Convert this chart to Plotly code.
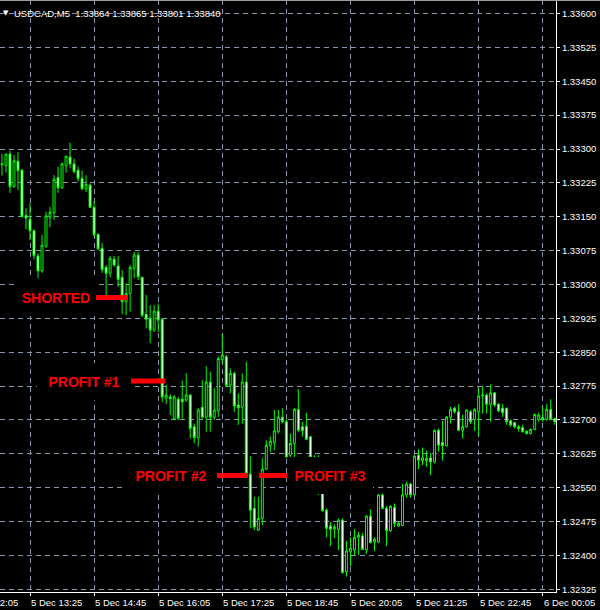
import pandas as pd
import plotly.graph_objects as go

# ---- 5-minute USDCAD bars (5 Dec 12:50 -> 6 Dec 00:20) ----
opens = [1.33265, 1.33263, 1.33289, 1.33217, 1.33273, 1.33253, 1.33153,
         1.33144, 1.33119, 1.33063, 1.33030, 1.33085, 1.33149, 1.33159, 1.33237, 1.33214, 1.33263,
         1.33282, 1.33267, 1.33253, 1.33235, 1.33212, 1.33220, 1.33171, 1.33111, 1.33080, 1.33038,
         1.33025, 1.33056, 1.33041, 1.33016, 1.32962, 1.32980, 1.33036, 1.33065, 1.33016, 1.32934,
         1.32925, 1.32899, 1.32941, 1.32923, 1.32748, 1.32751, 1.32703, 1.32746, 1.32746, 1.32744,
         1.32755, 1.32685, 1.32661, 1.32728, 1.32706, 1.32784, 1.32706, 1.32720, 1.32834, 1.32840,
         1.32777, 1.32803, 1.32733, 1.32728, 1.32784, 1.32580, 1.32504, 1.32456, 1.32482, 1.32591,
         1.32643, 1.32649, 1.32674, 1.32706, 1.32696, 1.32622, 1.32648, 1.32723, 1.32685, 1.32686,
         1.32663, 1.32618, 1.32576, 1.32545, 1.32500, 1.32465, 1.32458, 1.32457, 1.32478, 1.32364,
         1.32408, 1.32412, 1.32440, 1.32443, 1.32412, 1.32487, 1.32430, 1.32430, 1.32534, 1.32504,
         1.32455, 1.32506, 1.32465, 1.32466, 1.32534, 1.32558, 1.32534, 1.32622, 1.32610, 1.32610,
         1.32616, 1.32607, 1.32677, 1.32650, 1.32643, 1.32706, 1.32726, 1.32718, 1.32677, 1.32685,
         1.32718, 1.32700, 1.32718, 1.32753, 1.32755, 1.32735, 1.32760, 1.32735, 1.32726, 1.32726,
         1.32698, 1.32694, 1.32685, 1.32683, 1.32675, 1.32670, 1.32679, 1.32700, 1.32706, 1.32701,
         1.32723, 1.32703]
highs = [1.33289, 1.33289, 1.33296, 1.33287, 1.33293, 1.33256, 1.33169,
         1.33180, 1.33122, 1.33069, 1.33110, 1.33161, 1.33172, 1.33242, 1.33261, 1.33270, 1.33285,
         1.33314, 1.33279, 1.33261, 1.33252, 1.33242, 1.33224, 1.33185, 1.33113, 1.33092, 1.33043,
         1.33063, 1.33063, 1.33063, 1.33032, 1.33003, 1.33043, 1.33072, 1.33072, 1.33017, 1.32977,
         1.32954, 1.32954, 1.32958, 1.32925, 1.32777, 1.32757, 1.32755, 1.32751, 1.32787, 1.32803,
         1.32757, 1.32692, 1.32726, 1.32788, 1.32819, 1.32807, 1.32770, 1.32840, 1.32890, 1.32844,
         1.32814, 1.32807, 1.32759, 1.32803, 1.32829, 1.32620, 1.32530, 1.32530, 1.32615, 1.32655,
         1.32663, 1.32722, 1.32722, 1.32726, 1.32703, 1.32670, 1.32726, 1.32768, 1.32696, 1.32716,
         1.32664, 1.32622, 1.32622, 1.32556, 1.32504, 1.32474, 1.32469, 1.32482, 1.32482, 1.32432,
         1.32440, 1.32458, 1.32452, 1.32450, 1.32489, 1.32502, 1.32440, 1.32536, 1.32537, 1.32509,
         1.32511, 1.32515, 1.32474, 1.32558, 1.32563, 1.32561, 1.32622, 1.32635, 1.32639, 1.32632,
         1.32627, 1.32679, 1.32681, 1.32698, 1.32709, 1.32729, 1.32729, 1.32735, 1.32711, 1.32723,
         1.32722, 1.32726, 1.32770, 1.32775, 1.32759, 1.32779, 1.32762, 1.32737, 1.32735, 1.32727,
         1.32701, 1.32696, 1.32689, 1.32689, 1.32677, 1.32681, 1.32714, 1.32716, 1.32729, 1.32735,
         1.32746, 1.32705]
lows = [1.33241, 1.33248, 1.33203, 1.33214, 1.33209, 1.33149, 1.33122,
        1.33098, 1.33056, 1.33014, 1.33026, 1.33081, 1.33127, 1.33143, 1.33203, 1.33212, 1.33247,
        1.33257, 1.33246, 1.33228, 1.33209, 1.33205, 1.33169, 1.33106, 1.33076, 1.33026, 1.32974,
        1.33016, 1.33039, 1.32995, 1.32934, 1.32932, 1.32940, 1.33014, 1.33010, 1.32928, 1.32903,
        1.32870, 1.32895, 1.32895, 1.32740, 1.32735, 1.32711, 1.32700, 1.32700, 1.32703, 1.32740,
        1.32659, 1.32648, 1.32641, 1.32703, 1.32674, 1.32674, 1.32700, 1.32707, 1.32825, 1.32773,
        1.32759, 1.32718, 1.32689, 1.32692, 1.32580, 1.32460, 1.32456, 1.32454, 1.32467, 1.32589,
        1.32629, 1.32633, 1.32670, 1.32692, 1.32617, 1.32617, 1.32618, 1.32674, 1.32663, 1.32655,
        1.32615, 1.32562, 1.32534, 1.32497, 1.32440, 1.32421, 1.32438, 1.32412, 1.32360, 1.32353,
        1.32376, 1.32401, 1.32401, 1.32412, 1.32404, 1.32427, 1.32410, 1.32427, 1.32503, 1.32421,
        1.32452, 1.32463, 1.32463, 1.32465, 1.32528, 1.32528, 1.32533, 1.32591, 1.32600, 1.32596,
        1.32578, 1.32604, 1.32630, 1.32610, 1.32641, 1.32692, 1.32714, 1.32676, 1.32659, 1.32683,
        1.32691, 1.32676, 1.32664, 1.32714, 1.32714, 1.32696, 1.32729, 1.32718, 1.32707, 1.32689,
        1.32685, 1.32681, 1.32674, 1.32672, 1.32668, 1.32668, 1.32677, 1.32696, 1.32696, 1.32698,
        1.32700, 1.32689]
closes = [1.33267, 1.33289, 1.33217, 1.33274, 1.33252, 1.33150, 1.33147,
          1.33119, 1.33064, 1.33030, 1.33087, 1.33152, 1.33160, 1.33233, 1.33214, 1.33267, 1.33284,
          1.33267, 1.33250, 1.33235, 1.33212, 1.33222, 1.33171, 1.33110, 1.33079, 1.33033, 1.33025,
          1.33058, 1.33043, 1.33011, 1.32962, 1.32980, 1.33038, 1.33065, 1.33017, 1.32932, 1.32923,
          1.32899, 1.32941, 1.32921, 1.32751, 1.32755, 1.32747, 1.32751, 1.32703, 1.32740, 1.32755,
          1.32681, 1.32661, 1.32722, 1.32706, 1.32784, 1.32706, 1.32722, 1.32836, 1.32844, 1.32777,
          1.32803, 1.32731, 1.32727, 1.32784, 1.32582, 1.32500, 1.32463, 1.32482, 1.32591, 1.32644,
          1.32653, 1.32676, 1.32706, 1.32696, 1.32618, 1.32648, 1.32723, 1.32677, 1.32676, 1.32657,
          1.32617, 1.32576, 1.32545, 1.32499, 1.32460, 1.32458, 1.32463, 1.32478, 1.32362, 1.32410,
          1.32416, 1.32440, 1.32445, 1.32413, 1.32487, 1.32428, 1.32436, 1.32534, 1.32504, 1.32455,
          1.32509, 1.32471, 1.32471, 1.32534, 1.32558, 1.32534, 1.32620, 1.32611, 1.32616, 1.32615,
          1.32607, 1.32677, 1.32644, 1.32643, 1.32706, 1.32723, 1.32718, 1.32677, 1.32685, 1.32722,
          1.32696, 1.32723, 1.32753, 1.32755, 1.32735, 1.32760, 1.32733, 1.32720, 1.32716, 1.32696,
          1.32689, 1.32685, 1.32681, 1.32674, 1.32670, 1.32679, 1.32712, 1.32711, 1.32702, 1.32723,
          1.32702, 1.32696]
bar_start = "2017-12-05 12:50"
times = pd.date_range(bar_start, periods=len(opens), freq="5min")

# ---- time axis labels ----
tick_times = ["2017-12-05 12:05", "2017-12-05 13:25", "2017-12-05 14:45", "2017-12-05 16:05",
              "2017-12-05 17:25", "2017-12-05 18:45", "2017-12-05 20:05", "2017-12-05 21:25",
              "2017-12-05 22:45", "2017-12-06 00:05"]
tick_labels = ["5 Dec 12:05", "5 Dec 13:25", "5 Dec 14:45", "5 Dec 16:05", "5 Dec 17:25",
               "5 Dec 18:45", "5 Dec 20:05", "5 Dec 21:25", "5 Dec 22:45", "6 Dec 00:05"]
x_view = ["2017-12-05 12:47:33", "2017-12-06 00:21:36"]

# ---- trade annotations ----
level_names = ["SHORTED", "PROFIT #1", "PROFIT #2", "PROFIT #3"]
level_prices = [1.32971, 1.32786, 1.32577, 1.32577]
level_start = ["2017-12-05 14:47:24", "2017-12-05 15:31:06", "2017-12-05 17:18:27", "2017-12-05 18:10:51"]
level_end = ["2017-12-05 15:27:18", "2017-12-05 16:13:30", "2017-12-05 17:57:06", "2017-12-05 18:45:48"]
level_side = ["left", "left", "left", "right"]
level_box_w = [80, 94, 92, 86]

title_text = "USDCAD,M5\u00a0\u00a01.33864 1.33865 1.33801 1.33840"

GREEN = "#00ff00"
GRID = "#8796aa"
AXFONT = dict(family="Liberation Sans, Arial, sans-serif", size=9.5, color="white")

fig = go.Figure()
fig.add_trace(go.Candlestick(
    x=times, open=opens, high=highs, low=lows, close=closes,
    increasing=dict(line=dict(color=GREEN, width=1), fillcolor="black"),
    decreasing=dict(line=dict(color=GREEN, width=1), fillcolor="white"),
    whiskerwidth=0, hoverinfo="skip", showlegend=False,
))

shapes = []
annotations = []
for name, p, t0, t1, side, bw in zip(level_names, level_prices, level_start, level_end,
                                      level_side, level_box_w):
    shapes.append(dict(type="line", xref="x", yref="y", x0=t0, x1=t1, y0=p, y1=p,
                       line=dict(color="#ff0000", width=5), layer="above"))
    annotations.append(dict(
        xref="x", yref="y", x=t0 if side == "left" else t1, y=p,
        xanchor="right" if side == "left" else "left", yanchor="middle",
        text=name, showarrow=False, bgcolor="black", width=bw, height=37,
        borderpad=0, borderwidth=0,
        font=dict(family="Liberation Sans, Arial, sans-serif", size=14, color="#ff0000",
                  weight="bold"),
    ))

# time labels start at their tick (as in MetaTrader); ones left of the view are clipped
v0, v1 = pd.Timestamp(x_view[0]), pd.Timestamp(x_view[1])
for t, lab in zip(tick_times, tick_labels):
    ts = pd.Timestamp(t)
    if ts >= v0:
        annotations.append(dict(xref="x", yref="paper", x=t, y=0, xanchor="left", yanchor="top",
                                yshift=-3, xshift=-1, text=lab, showarrow=False, font=AXFONT))
    else:
        frac = (ts - v0) / (v1 - v0)
        annotations.append(dict(xref="paper", yref="paper", x=frac, y=0, xanchor="left",
                                yanchor="top", yshift=-3, xshift=-1, text=lab, showarrow=False,
                                font=AXFONT))

annotations.append(dict(xref="paper", yref="paper", x=0, y=1, xanchor="left", yanchor="middle",
                        xshift=12, yshift=-13, text=title_text, showarrow=False,
                        font=dict(family="Liberation Sans, Arial, sans-serif", size=9.5,
                                  color="white")))
annotations.append(dict(xref="paper", yref="paper", x=0, y=1, xanchor="left", yanchor="middle",
                        xshift=1, yshift=-13, text="\u25bc", showarrow=False,
                        font=dict(family="DejaVu Sans", size=7, color="white")))

shapes.append(dict(type="line", xref="paper", yref="paper", x0=0, x1=1.1, y0=1, y1=1,
                   line=dict(color="#9a9a9a", width=2), layer="above"))

fig.update_layout(
    width=600, height=610,
    margin=dict(l=0, r=44, t=0, b=18),
    paper_bgcolor="black", plot_bgcolor="black",
    shapes=shapes, annotations=annotations,
    showlegend=False,
    xaxis=dict(
        type="date", range=x_view,
        rangeslider=dict(visible=False),
        tickvals=tick_times[1:], showticklabels=False,
        ticks="outside", ticklen=3, tickcolor="white",
        showline=True, linecolor="white", linewidth=1,
        showgrid=True, gridcolor=GRID, griddash="5px,4px", gridwidth=1,
        zeroline=False, fixedrange=True,
    ),
    yaxis=dict(
        side="right", range=[1.32319, 1.33630],
        tick0=1.32325, dtick=0.00075, tickformat=".5f",
        ticks="outside", ticklen=3, tickcolor="white",
        tickfont=AXFONT,
        showline=True, linecolor="white", linewidth=1, mirror=False,
        showgrid=True, gridcolor=GRID, griddash="5px,4px", gridwidth=1,
        zeroline=False, fixedrange=True,
    ),
)

fig.write_html(
    "out.html",
    config={"staticPlot": True},
    post_script="document.body.style.margin='0';document.body.style.background='black';",
)
